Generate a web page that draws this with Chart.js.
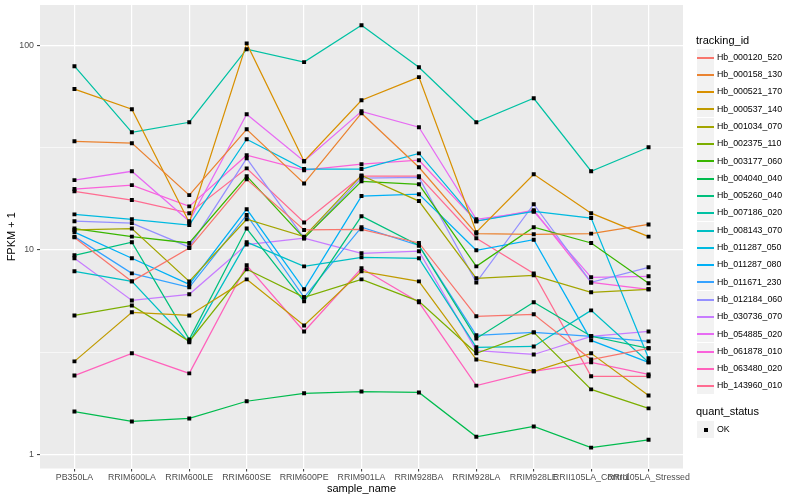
<!DOCTYPE html>
<html>
<head>
<meta charset="utf-8">
<script src="https://cdn.jsdelivr.net/npm/chart.js@4.4.1/dist/chart.umd.min.js"></script>
<style>
  body { margin: 0; background: #fff; font-family: "Liberation Sans", Arial, sans-serif; }
  #wrap { position: relative; width: 800px; height: 500px; }
  #legend { position: absolute; left: 0; top: 0; width: 800px; height: 500px; pointer-events: none; color: #000; }
  #legend div { position: absolute; white-space: nowrap; }
</style>
</head>
<body>
<div id="wrap">
  <canvas id="chart" width="800" height="500"></canvas>
  <div id="legend"></div>
</div>
<script>
const samples = ["PB350LA", "RRIM600LA", "RRIM600LE", "RRIM600SE", "RRIM600PE", "RRIM901LA",
  "RRIM928BA", "RRIM928LA", "RRIM928LE", "RRII105LA_Control", "RRII105LA_Stressed"];

const trackingIds = ["Hb_000120_520", "Hb_000158_130", "Hb_000521_170", "Hb_000537_140", "Hb_001034_070",
  "Hb_002375_110", "Hb_003177_060", "Hb_004040_040", "Hb_005260_040", "Hb_007186_020",
  "Hb_008143_070", "Hb_011287_050", "Hb_011287_080", "Hb_011671_230", "Hb_012184_060",
  "Hb_030736_070", "Hb_054885_020", "Hb_061878_010", "Hb_063480_020", "Hb_143960_010"];

const colours = ["#F8766D", "#EA8331", "#D89000", "#C09B00", "#A3A500", "#7CAE00", "#39B600", "#00BB4E",
  "#00BF7D", "#00C1A3", "#00BFC4", "#00BAE0", "#00B0F6", "#35A2FF", "#9590FF", "#C77CFF",
  "#E76BF3", "#FA62DB", "#FF62BC", "#FF6C91"];

// FPKM + 1, one value per sample
const hb_000120_520 = [11.5, 7.01, 10.2, 22.1, 12.5, 12.6, 10.8, 4.73, 4.84, 2.91, 3.30];
const hb_000158_130 = [33.9, 33.2, 18.5, 38.8, 21.1, 46.5, 25.3, 12.0, 11.9, 12.0, 13.3];
const hb_000521_170 = [61.0, 48.6, 13.6, 102, 27.1, 53.8, 69.8, 12.2, 23.4, 15.1, 11.6];
const hb_000537_140 = [2.85, 4.95, 4.78, 7.17, 4.27, 7.85, 7.01, 2.91, 2.55, 3.12, 1.94];
const hb_001034_070 = [12.5, 12.7, 7.01, 14.1, 11.6, 23.1, 17.3, 7.26, 7.50, 6.20, 6.41];
const hb_002375_110 = [4.78, 5.35, 3.57, 8.03, 5.86, 7.17, 5.60, 3.12, 3.95, 2.08, 1.68];
const hb_003177_060 = [12.7, 11.6, 10.8, 22.9, 11.4, 21.6, 20.9, 8.30, 12.9, 10.8, 6.86];
const hb_004040_040 = [1.62, 1.45, 1.50, 1.82, 1.99, 2.03, 2.01, 1.22, 1.37, 1.08, 1.18];
const hb_005260_040 = [9.40, 10.9, 3.65, 12.7, 5.60, 14.6, 10.5, 3.69, 5.54, 3.78, 3.30];
const hb_007186_020 = [78.9, 37.5, 42.0, 95.6, 82.6, 125, 78.0, 42.0, 55.0, 24.2, 31.7];
const hb_008143_070 = [7.85, 7.01, 3.53, 10.9, 8.30, 9.19, 9.09, 3.34, 3.37, 5.06, 2.82];
const hb_011287_050 = [14.9, 14.1, 13.2, 34.7, 24.8, 24.8, 29.6, 13.8, 15.4, 14.3, 2.95];
const hb_011287_080 = [12.2, 9.09, 6.78, 15.8, 6.41, 18.3, 18.7, 9.95, 11.2, 3.61, 2.82];
const hb_011671_230 = [11.6, 7.67, 6.56, 14.8, 5.86, 12.9, 10.5, 3.82, 3.95, 3.78, 3.57];
const hb_012184_060 = [13.8, 13.5, 10.3, 28.0, 11.4, 22.4, 22.6, 6.93, 16.7, 6.93, 8.21];
const hb_030736_070 = [9.09, 5.66, 6.06, 10.6, 11.4, 9.61, 9.84, 3.22, 3.08, 3.78, 3.99];
const hb_054885_020 = [21.9, 24.2, 13.8, 46.0, 27.1, 47.5, 39.7, 14.1, 15.4, 7.34, 7.42];
const hb_061878_010 = [19.8, 20.7, 16.3, 29.0, 24.5, 26.2, 27.4, 13.8, 15.6, 6.93, 6.41];
const hb_063480_020 = [2.43, 3.12, 2.49, 8.40, 3.99, 8.12, 5.54, 2.17, 2.55, 2.82, 2.46];
const hb_143960_010 = [19.3, 17.5, 15.1, 25.0, 13.6, 22.9, 22.9, 11.4, 7.67, 2.41, 2.41];

const series = [hb_000120_520, hb_000158_130, hb_000521_170, hb_000537_140, hb_001034_070,
  hb_002375_110, hb_003177_060, hb_004040_040, hb_005260_040, hb_007186_020,
  hb_008143_070, hb_011287_050, hb_011287_080, hb_011671_230, hb_012184_060,
  hb_030736_070, hb_054885_020, hb_061878_010, hb_063480_020, hb_143960_010];

const yMajor = [1, 10, 100];
const yMinor = [3.1623, 31.623];

const FONT = "'Liberation Sans', Arial, sans-serif";

const lineSets = series.map((vals, k) => ({
  label: trackingIds[k],
  data: vals.map((v, i) => ({ x: i, y: v })),
  borderColor: colours[k],
  borderWidth: 1.25,
  pointRadius: 0,
  order: 1
}));

// points go on top of every line, as in ggplot
const pointSet = {
  label: "OK",
  type: "scatter",
  data: series.flatMap(vals => vals.map((v, i) => ({ x: i, y: v }))),
  pointStyle: "rect",
  pointRadius: 2.8,
  pointBackgroundColor: "#000",
  pointBorderWidth: 0,
  order: 0
};

const panelBg = {
  id: "panelBg",
  beforeDraw(chart) {
    const { ctx, chartArea: a } = chart;
    ctx.save();
    ctx.fillStyle = "#EBEBEB";
    ctx.fillRect(a.left, a.top, a.right - a.left, a.bottom - a.top);
    ctx.restore();
  }
};

new Chart(document.getElementById("chart"), {
  type: "line",
  data: { datasets: [...lineSets, pointSet] },
  plugins: [panelBg],
  options: {
    responsive: false,
    animation: false,
    layout: { padding: { left: 0, right: 117, top: 5, bottom: 0 } },
    plugins: { legend: { display: false }, tooltip: { enabled: false } },
    scales: {
      x: {
        type: "linear",
        min: -0.6,
        max: 10.6,
        afterBuildTicks: s => { s.ticks = samples.map((_, i) => ({ value: i })); },
        afterFit: s => { s.height = 31.5; s.paddingLeft = 0; s.paddingRight = 0; },
        grid: { color: "#fff", lineWidth: 1.2, tickColor: "#333", tickLength: 3, tickWidth: 1 },
        border: { display: false },
        ticks: {
          autoSkip: false, maxRotation: 0, minRotation: 0, padding: 1,
          color: "#4D4D4D", font: { family: FONT, size: 8.8 },
          callback: v => samples[v]
        },
        title: { display: true, text: "sample_name", color: "#000",
          font: { family: FONT, size: 11 }, padding: { top: 0, bottom: 4.4 } }
      },
      y: {
        type: "logarithmic",
        min: 0.854,
        max: 157.1,
        afterBuildTicks: s => {
          s.ticks = [...yMajor, ...yMinor].sort((a, b) => a - b).map(v => ({ value: v }));
        },
        afterFit: s => { s.width = 40; s.paddingTop = 0; s.paddingBottom = 0; },
        grid: {
          color: "#fff",
          lineWidth: c => (c.tick && yMajor.includes(c.tick.value) ? 1.2 : 0.6),
          tickColor: c => (c.tick && yMajor.includes(c.tick.value) ? "#333" : "rgba(0,0,0,0)"),
          tickLength: 3, tickWidth: 1
        },
        border: { display: false },
        ticks: {
          padding: 3, color: "#4D4D4D", font: { family: FONT, size: 8.8 },
          callback: v => (yMajor.includes(v) ? String(v) : "")
        },
        title: { display: true, text: "FPKM + 1", color: "#000",
          font: { family: FONT, size: 11 }, padding: { top: 5.4, bottom: 0 } }
      }
    }
  }
});

// ggplot-style legend beside the panel
const legend = document.getElementById("legend");
function addText(txt, x, cy, size) {
  const d = document.createElement("div");
  d.textContent = txt;
  d.style.left = x + "px";
  d.style.top = (cy - size * 0.6) + "px";
  d.style.fontSize = size + "px";
  d.style.lineHeight = (size * 1.2) + "px";
  legend.appendChild(d);
}
function addKey(cy) {
  const d = document.createElement("div");
  d.style.left = "697px";
  d.style.top = Math.round(cy - 8.5) + "px";
  d.style.width = "17px";
  d.style.height = "17px";
  d.style.background = "#F2F2F2";
  legend.appendChild(d);
  return d;
}

addText("tracking_id", 696, 40.5, 11);
trackingIds.forEach((id, k) => {
  const cy = 57 + k * 17.3;
  const key = addKey(cy);
  const ln = document.createElement("div");
  ln.style.cssText = "left:0;top:8px;width:17px;height:1.5px;background:" + colours[k] + ";";
  key.appendChild(ln);
  addText(id, 717, cy, 8.8);
});

addText("quant_status", 696, 412, 11);
const okKey = addKey(429);
const dot = document.createElement("div");
dot.style.cssText = "left:7px;top:7px;width:3.5px;height:3.5px;background:#000;";
okKey.appendChild(dot);
addText("OK", 717, 429, 8.8);
</script>
</body>
</html>
